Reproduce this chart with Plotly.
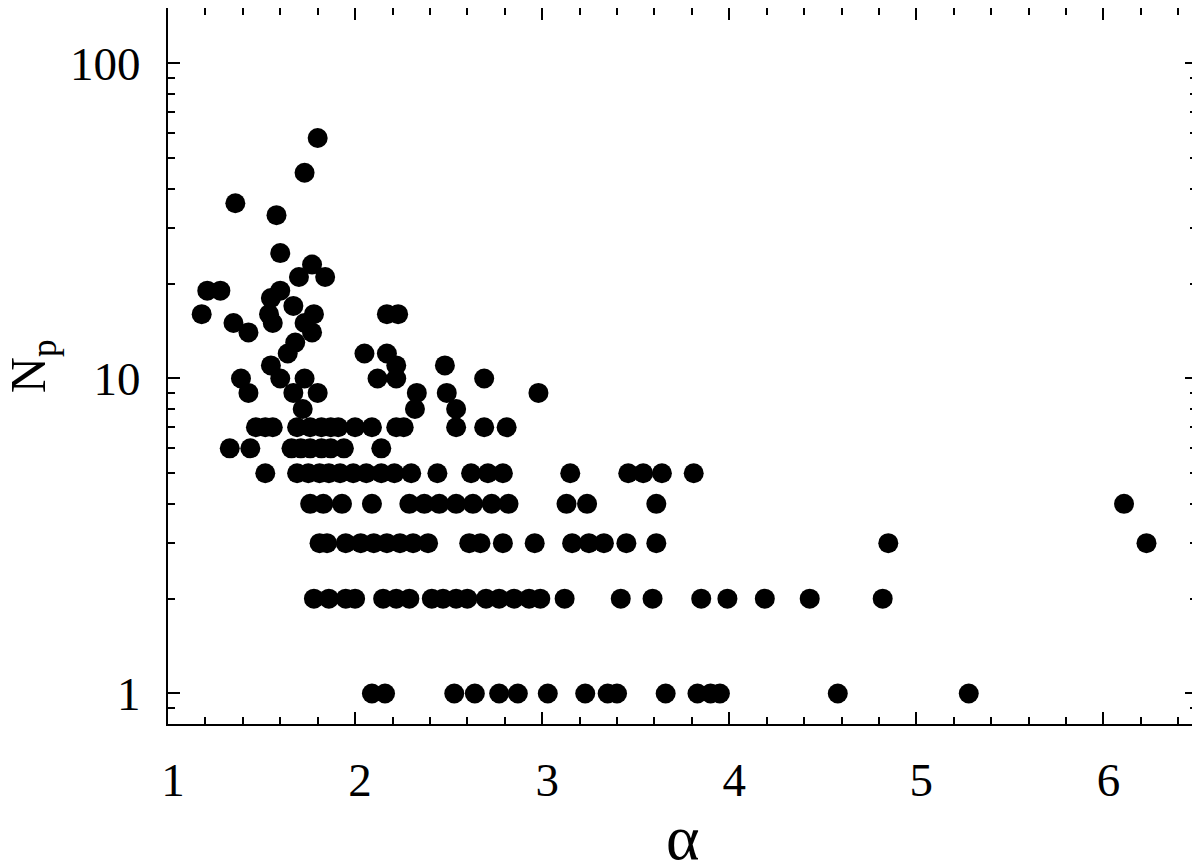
import numpy as np
import plotly.graph_objects as go

# alpha values grouped by number of points N_p
alpha_np1 = [2.09, 2.16, 2.53, 2.64, 2.77, 2.87, 3.03, 3.23, 3.35, 3.40, 3.66, 3.83, 3.90, 3.95, 4.58, 5.28]
alpha_np2 = [1.78, 1.86, 1.95, 2.00, 2.15, 2.22, 2.29, 2.41, 2.47, 2.54, 2.60, 2.70, 2.77, 2.85,
             2.93, 2.99, 3.12, 3.42, 3.59, 3.85, 3.99, 4.19, 4.43, 4.82]
alpha_np3 = [1.81, 1.85, 1.95, 2.03, 2.10, 2.17, 2.24, 2.31, 2.39, 2.61, 2.67, 2.79, 2.96, 3.16,
             3.25, 3.33, 3.45, 3.61, 4.85, 6.23]
alpha_np4 = [1.76, 1.83, 1.93, 2.09, 2.29, 2.37, 2.45, 2.54, 2.63, 2.73, 2.82, 3.13, 3.24, 3.61, 6.11]
alpha_np5 = [1.52, 1.69, 1.75, 1.81, 1.86, 1.92, 1.99, 2.06, 2.14, 2.21, 2.30, 2.44, 2.62, 2.71,
             2.79, 3.15, 3.46, 3.54, 3.64, 3.81]
alpha_np6 = [1.33, 1.44, 1.66, 1.71, 1.76, 1.82, 1.87, 1.94, 2.14]
alpha_np7 = [1.47, 1.52, 1.56, 1.69, 1.76, 1.82, 1.87, 1.91, 2.00, 2.09, 2.22, 2.26, 2.54, 2.69, 2.81]
alpha_np8 = [1.72, 2.32, 2.54]
alpha_np9 = [1.43, 1.67, 1.80, 2.33, 2.49, 2.98]
alpha_np10 = [1.39, 1.60, 1.73, 2.12, 2.22, 2.69]
alpha_np11 = [1.55, 2.22, 2.48]
alpha_np12 = [1.64, 2.05, 2.17]
alpha_np13 = [1.68]
alpha_np14 = [1.43, 1.77]
alpha_np15 = [1.35, 1.56, 1.73]
alpha_np16 = [1.18, 1.54, 1.78, 2.17, 2.23]
alpha_np17 = [1.67]
alpha_np18 = [1.55]
alpha_np19 = [1.21, 1.28, 1.60]
alpha_np21 = [1.70, 1.84]
alpha_np23 = [1.77]
alpha_np25 = [1.60]
alpha_np33 = [1.58]
alpha_np36 = [1.36]
alpha_np45 = [1.73]
alpha_np58 = [1.80]

groups = {
    1: alpha_np1, 2: alpha_np2, 3: alpha_np3, 4: alpha_np4, 5: alpha_np5, 6: alpha_np6,
    7: alpha_np7, 8: alpha_np8, 9: alpha_np9, 10: alpha_np10, 11: alpha_np11, 12: alpha_np12,
    13: alpha_np13, 14: alpha_np14, 15: alpha_np15, 16: alpha_np16, 17: alpha_np17,
    18: alpha_np18, 19: alpha_np19, 21: alpha_np21, 23: alpha_np23, 25: alpha_np25,
    33: alpha_np33, 36: alpha_np36, 45: alpha_np45, 58: alpha_np58,
}

alpha = []
n_p = []
for k, vals in groups.items():
    alpha += vals
    n_p += [k] * len(vals)

x_ticks = [1, 2, 3, 4, 5, 6]
y_ticks = [1, 10, 100]
x_title = "α"
y_title = "N<sub>p</sub>"

FONT = "Liberation Serif"

fig = go.Figure(go.Scatter(
    x=alpha, y=n_p, mode="markers",
    marker=dict(size=20, color="black", line=dict(width=0)),
    showlegend=False,
))

axis_common = dict(
    showgrid=False, zeroline=False,
    showline=True, linecolor="black", linewidth=2,
    mirror="allticks", ticks="inside", ticklen=12, tickwidth=1.5, tickcolor="black",
    tickfont=dict(family=FONT, size=47, color="black"),
)

fig.update_xaxes(
    **axis_common,
    range=[1, 6.5],
    tickvals=x_ticks, ticktext=[str(v) for v in x_ticks],
    minor=dict(ticks="inside", ticklen=7, tickwidth=1.5, tickcolor="black", dtick=0.2),
    ticklabelshift=5,
    ticklabelstandoff=14,
)
fig.update_yaxes(
    **axis_common,
    type="log",
    range=[np.log10(0.8), np.log10(150)],
    tickvals=y_ticks, ticktext=[str(v) for v in y_ticks],
    minor=dict(ticks="inside", ticklen=7, tickwidth=1.5, tickcolor="black", dtick="D1"),
    ticklabelstandoff=16,
)

# axis titles placed as annotations so they can sit close to the figure edges
fig.add_annotation(
    text=x_title, xref="paper", yref="paper", x=0.5, y=-0.158,
    xanchor="center", yanchor="middle", showarrow=False,
    font=dict(family=FONT, size=64, color="black"),
)
fig.add_annotation(
    text=y_title, xref="paper", yref="paper", x=-0.132, y=0.5,
    xanchor="center", yanchor="middle", showarrow=False, textangle=-90,
    font=dict(family=FONT, size=50, color="black"),
)

# the page adds an 8px body margin, so the figure is sized to end at the window edge
fig.update_layout(
    width=1192, height=854,
    margin=dict(l=160, r=3, t=0, b=138, autoexpand=False),
    paper_bgcolor="white", plot_bgcolor="white",
)

fig.write_html("out.html")
